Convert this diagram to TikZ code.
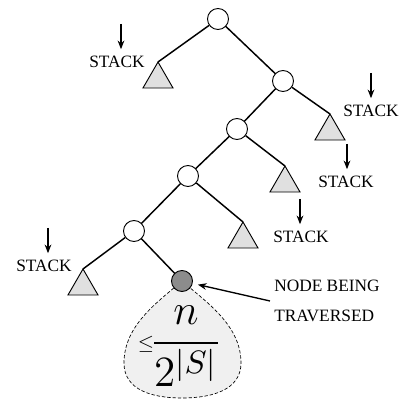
\documentclass[tikz,border=0pt]{standalone}
\usepackage{amsmath}
\usepackage{graphicx}
\usepackage[no-math]{fontspec}
\setmainfont{Liberation Serif}
\usetikzlibrary{shapes.geometric,arrows.meta}
\definecolor{leafgray}{RGB}{224,224,224}
\definecolor{dropgray}{RGB}{240,240,240}
\definecolor{curgray}{RGB}{140,140,140}

\begin{document}
\begin{tikzpicture}[x=0.75pt,y=-0.75pt,
    font=\fontsize{13}{15}\selectfont,
    vertex/.style={circle, draw, fill=white, line width=0.7pt,
      minimum size=15.75pt, inner sep=0pt},
    current/.style={vertex, fill=curgray},
    subtree/.style={regular polygon, regular polygon sides=3, draw,
      fill=leafgray, line width=0.7pt, minimum size=26pt,
      inner sep=0pt, outer sep=0pt, anchor=corner 1},
    edge/.style={line width=1.1pt},
    push/.style={-{Stealth[length=6.5pt,width=5pt]}, line width=1pt},
    stacklbl/.style={inner sep=1pt}]
  \useasboundingbox (0,0) rectangle (405,400);

  % region still to be searched below the current node
  \draw[fill=dropgray, line width=0.5pt, dash pattern=on 2.5pt off 1.5pt]
    (182,281) .. controls (158,302) and (124,325) .. (124,363)
    .. controls (124,390) and (152,398) .. (182,398)
    .. controls (212,398) and (241,390) .. (241,363)
    .. controls (241,325) and (206,302) .. (182,281) -- cycle;

  % path from the root
  \node[vertex] (r0) at (218,19) {};
  \node[vertex] (r1) at (283,81) {};
  \node[vertex] (r2) at (237,129) {};
  \node[vertex] (r3) at (188,176) {};
  \node[vertex] (r4) at (134,231) {};
  \node[current] (cur) at (182,281) {};

  % siblings left on the stack
  \node[subtree] (t1) at (158,62) {};
  \node[subtree] (t2) at (330,114) {};
  \node[subtree] (t3) at (285,166) {};
  \node[subtree] (t4) at (243,222) {};
  \node[subtree] (t5) at (83,269) {};

  \draw[edge] (r0) -- (t1.corner 1);
  \draw[edge] (r0) -- (r1);
  \draw[edge] (r1) -- (r2);
  \draw[edge] (r1) -- (t2.corner 1);
  \draw[edge] (r2) -- (r3);
  \draw[edge] (r2) -- (t3.corner 1);
  \draw[edge] (r3) -- (r4);
  \draw[edge] (r3) -- (t4.corner 1);
  \draw[edge] (r4) -- (t5.corner 1);
  \draw[edge] (r4) -- (cur);

  \node[stacklbl] (s1) at (117,62) {STACK};
  \node[stacklbl] (s2) at (371,111) {STACK};
  \node[stacklbl] (s3) at (346,182) {STACK};
  \node[stacklbl] (s4) at (301,237) {STACK};
  \node[stacklbl] (s5) at (44,266) {STACK};
  \foreach \s/\dx in {s1/4,s2/0,s3/1,s4/-1,s5/4}
    \draw[push] ([xshift=\dx*0.75pt, yshift=23pt]\s.north)
      -- ([xshift=\dx*0.75pt, yshift=4pt]\s.north);

  % size bound of the remaining subtree
  \node[inner sep=0pt] (bound) at (186,346)
    {\scalebox{2.7}{$\dfrac{n}{2^{|S|}}$}};
  \node[inner sep=0pt] (le) at (146,344) {\scalebox{1.3}{$\leq$}};

  \node[anchor=west, align=left, inner sep=3pt,
    font=\fontsize{13}{22.5}\selectfont] (trav) at (270,301)
    {NODE BEING\\TRAVERSED};
  \draw[push, shorten >=4pt] (trav.west) -- (cur);
\end{tikzpicture}
\end{document}
